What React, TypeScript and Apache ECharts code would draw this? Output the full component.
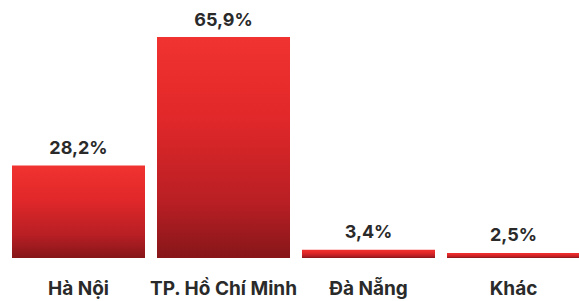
import React, { useEffect, useRef } from "react";
import * as echarts from "echarts";

const categories = ["Hà Nội", "TP. Hồ Chí Minh", "Đà Nẵng", "Khác"];
const values = [28.2, 65.9, 3.4, 2.5];
const valueLabels = ["28,2%", "65,9%", "3,4%", "2,5%"];

export default function App() {
  const ref = useRef<HTMLDivElement>(null);
  useEffect(() => {
    if (!ref.current) return;
    const chart = echarts.init(ref.current, null, { renderer: "svg" });
    const font = "Inter, 'Noto Sans', sans-serif";
    chart.setOption({
      animation: false,
      grid: { left: 6, top: 37, width: 580, bottom: 43, containLabel: false },
      xAxis: {
        type: "category",
        data: categories,
        axisLine: { show: false },
        axisTick: { show: false },
        axisLabel: {
          interval: 0,
          margin: 21,
          color: "#2a2a2a",
          fontSize: 19,
          fontWeight: "bold",
          fontFamily: font,
        },
      },
      yAxis: {
        type: "value",
        min: 1,
        max: 65.9,
        show: false,
        splitLine: { show: false },
      },
      series: [
        {
          type: "bar",
          data: values,
          barWidth: 133,
          itemStyle: {
            color: new echarts.graphic.LinearGradient(0, 0, 0, 1, [
              { offset: 0, color: "#f03330" },
              { offset: 0.35, color: "#e3282a" },
              { offset: 0.75, color: "#b81f24" },
              { offset: 1, color: "#861619" },
            ]),
          },
          label: {
            show: true,
            position: "top",
            distance: 9,
            color: "#2a2a2a",
            fontSize: 18,
            fontWeight: "bold",
            fontFamily: font,
            formatter: (p: any) => valueLabels[p.dataIndex],
          },
        },
      ],
    });
    return () => chart.dispose();
  }, []);
  return (
    <div style={{ position: "fixed", left: 0, top: 0, width: 579, height: 301, overflow: "hidden", background: "#fff" }}>
      <div ref={ref} style={{ width: 600, height: 301 }} />
    </div>
  );
}
